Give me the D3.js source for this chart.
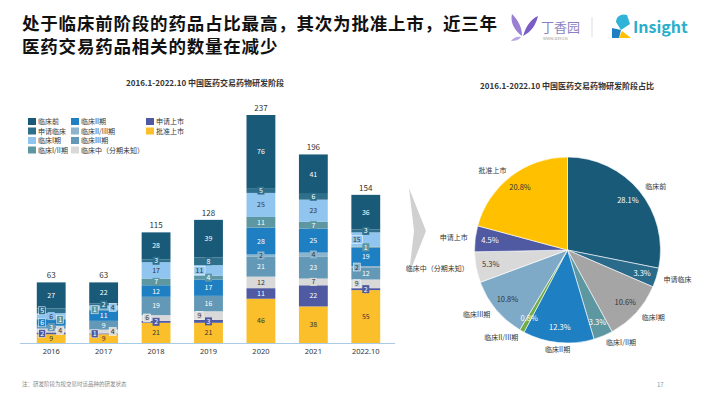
<!DOCTYPE html>
<html>
<head>
<meta charset="utf-8">
<script src="https://cdn.jsdelivr.net/npm/d3@7"></script>
<style>
  body { margin: 0; background: #fff; }
  svg { display: block; font-family: "Noto Sans CJK SC", "Noto Sans", sans-serif; }
</style>
</head>
<body>
<div id="chart"></div>
<script>
// data
const years = ["2016", "2017", "2018", "2019", "2020", "2021", "2022.10"];
const stages = ["临床前", "申请临床", "临床I期", "临床I/II期", "临床II期", "临床II/III期", "临床III期", "临床中（分期未知）", "申请上市", "批准上市"];
const preClinical = [27, 22, 28, 39, 76, 41, 36];
const ind = [5, 2, 3, 8, 5, 6, 3];
const phase1 = [6, 4, 17, 11, 25, 23, 15];
const phase12 = [1, 1, 7, 4, 11, 7, 1];
const phase2 = [6, 11, 12, 17, 28, 25, 19];
const phase23 = [0, 0, 0, 0, 2, 4, 2];
const phase3 = [3, 9, 19, 16, 21, 23, 12];
const clinicalUnknown = [4, 4, 6, 9, 12, 7, 9];
const nda = [2, 1, 2, 3, 11, 22, 2];
const approved = [9, 9, 21, 21, 46, 38, 55];
const seriesValues = [preClinical, ind, phase1, phase12, phase2, phase23, phase3, clinicalUnknown, nda, approved];

const barColors = ["#195a79", "#2e6f8c", "#8fc5ef", "#5d98a2", "#1f7fc3", "#8cb4cc", "#6399b6", "#d9d9d9", "#4f5aa2", "#fbbf2c"];
const barText = ["#fff", "#fff", "#333", "#fff", "#fff", "#333", "#fff", "#333", "#fff", "#333"];
const pieColors = ["#195a79", "#2a6b8b", "#a5a5a5", "#5d98a2", "#1f7fc3", "#70ad47", "#7eaac7", "#d9d9d9", "#4f5aa2", "#ffc000"];
const pieText = ["#fff", "#fff", "#333", "#fff", "#fff", "#fff", "#333", "#333", "#fff", "#333"];

const W = 710, H = 399;
const svg = d3.select("#chart").append("svg").attr("width", W).attr("height", H);

// headline
const head = svg.append("g").attr("font-weight", "bold").attr("font-size", 17.5).attr("fill", "#111").attr("letter-spacing", 0.8);
head.append("text").attr("x", 22).attr("y", 30).text("处于临床前阶段的药品占比最高，其次为批准上市，近三年");
head.append("text").attr("x", 22).attr("y", 53).text("医药交易药品相关的数量在减少");

// logos
const dxy = svg.append("g");
dxy.append("path").attr("d", "M522,36 C514,30 510,22 512,14 C518,20 522,27 522,36 Z").attr("fill", "#9a7fd4");
dxy.append("path").attr("d", "M523,36 C526,26 531,19 538,16 C536,25 531,32 523,36 Z").attr("fill", "#7a5cc4");
dxy.append("path").attr("d", "M521,37 C517,36 513,38 511,41 C515,41 519,40 521,37 Z").attr("fill", "#b9a6e3");
dxy.append("text").attr("x", 541).attr("y", 32).attr("font-size", 13).attr("fill", "#8a7fc0").text("丁香园");
dxy.append("text").attr("x", 543).attr("y", 40).attr("font-size", 4).attr("fill", "#999").text("WWW.DXY.CN");
svg.append("line").attr("x1", 592).attr("x2", 592).attr("y1", 17).attr("y2", 37).attr("stroke", "#ddd");
const ins = svg.append("g");
ins.append("path").attr("d", "M616,22 C616,16 622,13 627,15 L630,24 L621,30 Z").attr("fill", "#2fb3d6");
ins.append("path").attr("d", "M612,28 L621,30 L619,38 L612,38 Z").attr("fill", "#1f7fc3");
ins.append("path").attr("d", "M622,31 L631,38 L619,38 Z").attr("fill", "#ffc000");
ins.append("text").attr("x", 633).attr("y", 33).attr("font-size", 16).attr("font-weight", "bold").attr("fill", "#2aaecb").text("Insight");

// ---------- stacked bars ----------
svg.append("text").attr("x", 205).attr("y", 86).attr("text-anchor", "middle")
  .attr("font-size", 8).attr("font-weight", "bold").attr("fill", "#333")
  .text("2016.1-2022.10 中国医药交易药物研发阶段");

const x = d3.scaleBand().domain(years).range([25, 392]).paddingInner(0.45).paddingOuter(0.225);
const y = d3.scaleLinear().domain([0, 237]).range([343, 115]);

const rows = years.map((yr, i) => {
  const r = { year: yr };
  stages.forEach((s, k) => { r[s] = seriesValues[k][i]; });
  return r;
});
const stackOrder = stages.slice().reverse();
const stacked = d3.stack().keys(stackOrder)(rows);

const bars = svg.append("g");
stacked.forEach(layer => {
  const k = stages.indexOf(layer.key);
  bars.append("g").attr("fill", barColors[k])
    .selectAll("rect").data(layer).join("rect")
    .attr("x", d => x(d.data.year))
    .attr("width", x.bandwidth())
    .attr("y", d => y(d[1]))
    .attr("height", d => y(d[0]) - y(d[1]));
});

// segment labels: centred, pushed left/right only when they would collide
const labels = svg.append("g").attr("font-size", 7).attr("text-anchor", "middle");
years.forEach((yr, i) => {
  const placed = [];
  stacked.forEach(layer => {
    const k = stages.indexOf(layer.key);
    const d = layer[i];
    const v = d[1] - d[0];
    if (!v) return;
    const cy = (y(d[0]) + y(d[1])) / 2;
    let off = 0;
    for (const o of [0, -9, 9]) {
      if (!placed.some(p => p.off === o && Math.abs(p.cy - cy) < 9)) { off = o; break; }
    }
    placed.push({ cy, off });
    const cx = x(yr) + x.bandwidth() / 2 + off;
    const w = String(v).length > 1 ? 11 : 7;
    labels.append("rect").attr("x", cx - w / 2).attr("y", cy - 4).attr("width", w).attr("height", 8)
      .attr("fill", barColors[k])
      .attr("stroke", off ? "#fff" : "none").attr("stroke-width", 0.5);
    labels.append("text").attr("x", cx).attr("y", cy + 2.5).attr("fill", barText[k]).text(v);
  });
});

// totals
const totals = years.map((yr, i) => d3.sum(seriesValues, s => s[i]));
svg.append("g").attr("font-size", 8).attr("text-anchor", "middle").attr("fill", "#333")
  .selectAll("text").data(years).join("text")
  .attr("x", d => x(d) + x.bandwidth() / 2)
  .attr("y", (d, i) => y(totals[i]) - 4)
  .text((d, i) => totals[i]);

// axis
const axis = svg.append("g").attr("transform", "translate(0,343.5)")
  .call(d3.axisBottom(x).tickSize(0).tickPadding(5));
axis.select(".domain").attr("stroke", "#a9cbe8").attr("d", "M20,0H395");
axis.selectAll("text").attr("font-size", 7.5).attr("fill", "#333").attr("font-family", "Noto Sans, sans-serif");

// legend
const legend = svg.append("g").attr("font-size", 7).attr("fill", "#333");
const legCols = [28, 71, 146];
const legItems = stages.map((s, k) => ({ s, k, col: k < 4 ? 0 : k < 8 ? 1 : 2, row: k < 4 ? k : k < 8 ? k - 4 : k - 8 }));
legItems.forEach(it => {
  const gx = legCols[it.col], gy = 118 + it.row * 9.5;
  legend.append("rect").attr("x", gx).attr("y", gy).attr("width", 8).attr("height", 7).attr("fill", barColors[it.k]);
  legend.append("text").attr("x", gx + 10).attr("y", gy + 6.3).text(it.s);
});

// arrow
svg.append("path").attr("d", "M409,188 L426,231 L409,274 L414,231 Z").attr("fill", "#d0d0d0");

// ---------- pie ----------
svg.append("text").attr("x", 567).attr("y", 89).attr("text-anchor", "middle")
  .attr("font-size", 8).attr("font-weight", "bold").attr("fill", "#333")
  .text("2016.1-2022.10 中国医药交易药物研发阶段占比");

const sums = seriesValues.map(s => d3.sum(s));
const grand = d3.sum(sums);
const pieData = stages.map((s, k) => ({ name: s, value: sums[k], k }));
const cx0 = 567.5, cy0 = 250, R = 93;
const arcs = d3.pie().sort(null).value(d => d.value)(pieData);
const arc = d3.arc().innerRadius(0).outerRadius(R);
const pctArc = d3.arc().innerRadius(R * 0.84).outerRadius(R * 0.84);
const nameArc = d3.arc().innerRadius(R * 1.08).outerRadius(R * 1.08);

const pie = svg.append("g").attr("transform", `translate(${cx0},${cy0})`);
pie.selectAll("path").data(arcs).join("path")
  .attr("d", arc).attr("fill", d => pieColors[d.data.k]).attr("stroke", "#fff").attr("stroke-width", 0.6);

pie.selectAll(".pct").data(arcs).join("text").attr("class", "pct")
  .attr("transform", d => `translate(${pctArc.centroid(d)})`)
  .attr("dy", 2.5).attr("text-anchor", "middle").attr("font-size", 7.5)
  .attr("fill", d => pieText[d.data.k])
  .text(d => (d.data.value / grand * 100).toFixed(1) + "%");

pie.selectAll(".nm").data(arcs).join("text").attr("class", "nm")
  .attr("transform", d => `translate(${nameArc.centroid(d)})`)
  .attr("dy", 2.5).attr("font-size", 7).attr("fill", "#333")
  .attr("text-anchor", d => {
    const px = nameArc.centroid(d)[0];
    return px > 12 ? "start" : px < -12 ? "end" : "middle";
  })
  .text(d => d.data.name);

// footer
svg.append("text").attr("x", 22).attr("y", 386).attr("font-size", 5.5).attr("fill", "#888")
  .text("注：研发阶段为按交易时该品种的研发状态");
svg.append("text").attr("x", 657).attr("y", 387).attr("font-size", 6).attr("fill", "#6a9fb5").text("17");
</script>
</body>
</html>
